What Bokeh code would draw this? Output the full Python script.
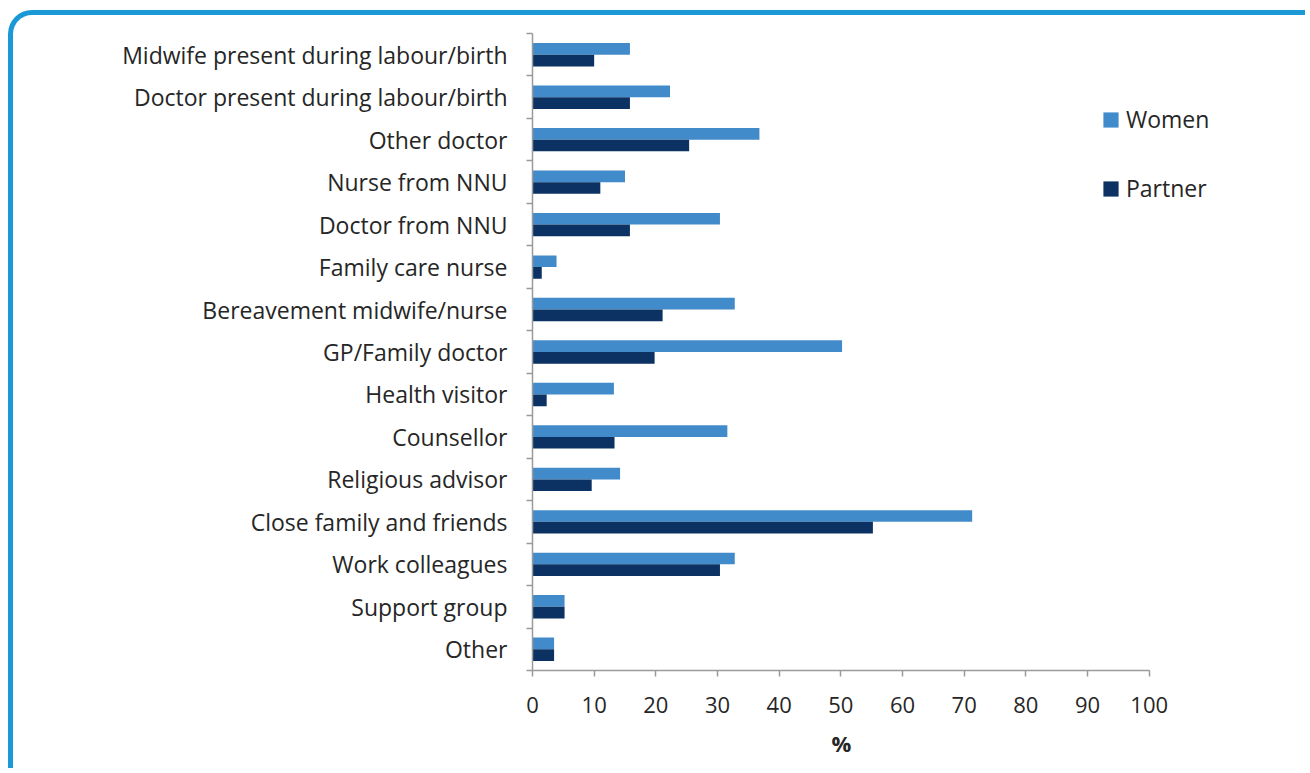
from bokeh.plotting import figure
from bokeh.models import FixedTicker, Legend, LegendItem, Range1d, Title
from bokeh.embed import file_html
from bokeh.resources import INLINE

categories = [
    "Midwife present during labour/birth",
    "Doctor present during labour/birth",
    "Other doctor",
    "Nurse from NNU",
    "Doctor from NNU",
    "Family care nurse",
    "Bereavement midwife/nurse",
    "GP/Family doctor",
    "Health visitor",
    "Counsellor",
    "Religious advisor",
    "Close family and friends",
    "Work colleagues",
    "Support group",
    "Other",
]
women = [15.8, 22.3, 36.8, 15.0, 30.4, 3.9, 32.8, 50.2, 13.2, 31.6, 14.2, 71.3, 32.8, 5.2, 3.5]
partner = [10.0, 15.8, 25.4, 11.0, 15.8, 1.5, 21.1, 19.8, 2.3, 13.3, 9.6, 55.2, 30.4, 5.2, 3.5]
x_ticks = list(range(0, 101, 10))
x_title = "%"

FONT = "Open Sans"
TEXT = "#262626"
AXIS = "#9a9a9a"
C_WOMEN = "#428bca"
C_PARTNER = "#0b3262"
BORDER = "5px solid #1b98d6"

n = len(categories)
centers = [n - i - 0.5 for i in range(n)]
bar_h = 0.275
off = bar_h / 2

p = figure(
    width=1297, height=758,
    x_range=Range1d(0, 120), y_range=Range1d(0, n),
    output_backend="svg", toolbar_location=None,
    min_border_left=519, min_border_right=38,
    min_border_top=18, min_border_bottom=103,
)
p.styles = {
    "margin-left": "8px",
    "margin-top": "10px",
    "border-top": BORDER,
    "border-left": BORDER,
    "border-right": "0px none transparent",
    "border-bottom": "0px none transparent",
    "border-top-left-radius": "24px",
    "border-top-right-radius": "0px",
    "border-bottom-left-radius": "0px",
    "border-bottom-right-radius": "0px",
}
p.border_fill_color = None
p.background_fill_color = None
p.outline_line_color = None
p.xgrid.visible = False
p.ygrid.visible = False

r_w = p.hbar(y=[c + off for c in centers], left=0, right=women, height=bar_h,
             fill_color=C_WOMEN, line_color=None)
r_p = p.hbar(y=[c - off for c in centers], left=0, right=partner, height=bar_h,
             fill_color=C_PARTNER, line_color=None)

# x axis
xa = p.xaxis[0]
xa.ticker = FixedTicker(ticks=x_ticks)
xa.bounds = (0, 100)
xa.axis_line_color = AXIS
xa.axis_line_width = 1.5
xa.major_tick_line_color = AXIS
xa.major_tick_line_width = 1.5
xa.major_tick_out = 6
xa.major_tick_in = 0
xa.minor_tick_line_color = None
xa.major_label_text_font = FONT
xa.major_label_text_font_size = "22px"
xa.major_label_text_color = TEXT
xa.major_label_standoff = 20

# x axis title, centred under the 0-100 span (frame spans 0-120)
p.add_layout(Title(
    text=x_title, align="left", offset=299, vertical_align="top", standoff=24,
    text_font=FONT, text_font_size="22px", text_font_style="bold",
    text_color=TEXT,
), "below")

# y axis
ya = p.yaxis[0]
ya.ticker = FixedTicker(ticks=centers, minor_ticks=list(range(0, n + 1)))
ya.major_label_overrides = {c: lab for c, lab in zip(centers, categories)}
ya.axis_line_color = AXIS
ya.axis_line_width = 1.5
ya.major_tick_line_color = None
ya.major_tick_out = 0
ya.major_tick_in = 0
ya.minor_tick_line_color = AXIS
ya.minor_tick_line_width = 1.5
ya.minor_tick_out = 6
ya.minor_tick_in = 0
ya.major_label_text_font = FONT
ya.major_label_text_font_size = "23px"
ya.major_label_text_color = TEXT
ya.major_label_standoff = 19

legend = Legend(
    items=[LegendItem(label="Women", renderers=[r_w]),
           LegendItem(label="Partner", renderers=[r_p])],
    location=(569, 466),
    orientation="vertical",
    glyph_width=19, glyph_height=19,
    label_text_font=FONT, label_text_font_size="23px", label_text_color=TEXT,
    label_standoff=6, spacing=37, padding=0, margin=0,
    border_line_color=None, background_fill_color=None, background_fill_alpha=0,
)
p.add_layout(legend, "center")

open("out.html", "w").write(file_html(p, INLINE))
